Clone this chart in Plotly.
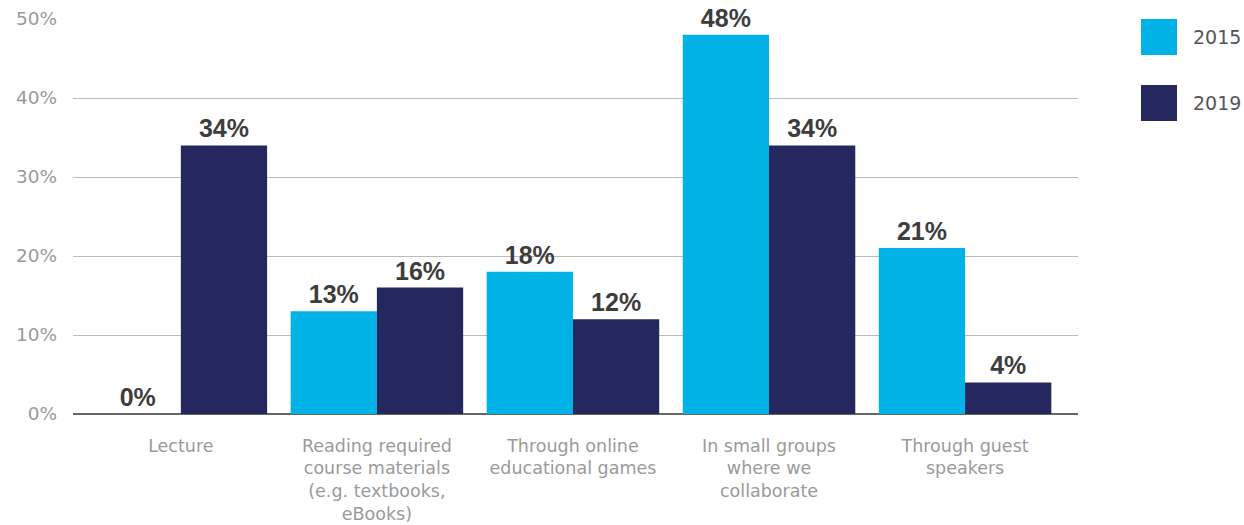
import plotly.graph_objects as go

# Survey responses by learning method, share of respondents (%)
categories = [
    "Lecture",
    "Reading required<br>course materials<br>(e.g. textbooks,<br>eBooks)",
    "Through online<br>educational games",
    "In small groups<br>where we<br>collaborate",
    "Through guest<br>speakers",
]
series_names = ["2015", "2019"]
values_2015 = [0, 13, 18, 48, 21]
values_2019 = [34, 16, 12, 34, 4]
y_ticks = [0, 10, 20, 30, 40, 50]

colors = {"2015": "#00B2E5", "2019": "#25285F"}
series_values = {"2015": values_2015, "2019": values_2019}

label_font = "DejaVu Sans, Verdana, sans-serif"

fig = go.Figure()
for name in series_names:
    fig.add_trace(go.Bar(
        x=categories,
        y=series_values[name],
        name=name,
        marker=dict(color=colors[name], line=dict(width=0)),
        text=[f"{v}%" for v in series_values[name]],
        textposition="outside",
        textfont=dict(family="Liberation Sans, Arial, sans-serif", size=25,
                      color="#3d3d3d", weight="bold"),
        cliponaxis=False,
        constraintext="none",
        showlegend=False,
    ))

# Legend drawn as large swatches at the right
for i, name in enumerate(series_names):
    top = 1 - (i * 66) / 395
    fig.add_shape(type="rect", xref="paper", yref="paper",
                  x0=(1141 - 73) / 1005, x1=(1177 - 73) / 1005,
                  y0=top - 36 / 395, y1=top,
                  fillcolor=colors[name], line=dict(width=0))
    fig.add_annotation(xref="paper", yref="paper",
                       x=(1191 - 73) / 1005, y=top - 18 / 395,
                       text=name, showarrow=False, xanchor="left", yanchor="middle",
                       font=dict(family=label_font, size=19, color="#555555"))

fig.update_layout(
    width=1244, height=525,
    margin=dict(l=73, r=166, t=19, b=111, autoexpand=False),
    barmode="group",
    bargap=0.12,
    bargroupgap=0,
    plot_bgcolor="white",
    paper_bgcolor="white",
    font=dict(family=label_font),
)
fig.update_xaxes(
    range=[-0.55, 4.576],
    showgrid=False,
    showline=False,
    ticks="",
    tickfont=dict(family=label_font, size=17.5, color="#9a9a9a"),
    ticklabelstandoff=19,
)
fig.update_yaxes(
    range=[0, 50],
    tickvals=y_ticks,
    ticktext=[f"{t}%" for t in y_ticks],
    showgrid=True,
    gridcolor="#bbbbbb",
    gridwidth=1,
    zeroline=True,
    zerolinecolor="#666666",
    zerolinewidth=2,
    showline=False,
    ticks="",
    ticklabelstandoff=15,
    tickfont=dict(family=label_font, size=18.5, color="#9a9a9a"),
)

fig.write_html("out.html")
